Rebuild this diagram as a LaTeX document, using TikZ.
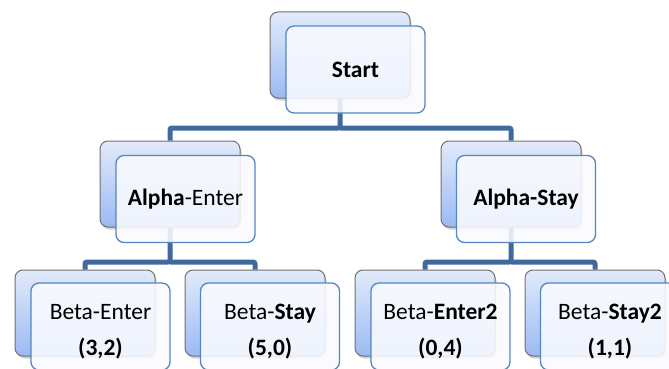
\documentclass[tikz,border=0pt]{standalone}
\usepackage{fontspec}
\setmainfont{Carlito}
\usetikzlibrary{shadows}
\definecolor{connblue}{HTML}{41699C}
\definecolor{backtop}{HTML}{E2EAFB}
\definecolor{backbot}{HTML}{9BBAF2}
\definecolor{backline}{HTML}{707070}
\definecolor{frontline}{HTML}{5686BF}
\definecolor{frontfill}{HTML}{FAFBFF}
\tikzset{
  backbox/.style={rectangle, rounded corners=8pt, minimum width=140pt, minimum height=86pt,
    inner sep=0pt, draw=backline, line width=1pt, top color=backtop, bottom color=backbot,
    drop shadow={shadow xshift=1.5pt, shadow yshift=-2.5pt, opacity=0.35}},
  frontbox/.style={rectangle, rounded corners=8pt, minimum width=139pt, minimum height=87pt,
    inner sep=0pt, draw=frontline, line width=1.3pt, fill=frontfill, fill opacity=0.88,
    text opacity=1, align=center, font=\fontsize{23.5}{36}\selectfont},
  conn/.style={draw=connblue, line width=5pt, rounded corners=2pt}
}
\newcommand{\tl}{\rule{0pt}{26pt}}
\begin{document}
\begin{tikzpicture}[x=1pt, y=-1pt]
\useasboundingbox (0,0) rectangle (669,369);
\clip (0,0) rectangle (669,369);
% back boxes
\node[backbox] (sb) at (340,55) {};
\node[backbox] (aeb) at (170,184) {};
\node[backbox] (asb) at (511,184) {};
\node[backbox] (b1b) at (85,313) {};
\node[backbox] (b2b) at (255,313) {};
\node[backbox] (b3b) at (425,313) {};
\node[backbox] (b4b) at (595,313) {};
% junctions
\coordinate (j1) at (340,128);
\coordinate (j2) at (170,262);
\coordinate (j3) at (511,262);
% connectors
\draw[conn] (sb.south) -- (j1) -| (aeb.north);
\draw[conn] (j1) -| (asb.north);
\draw[conn] (aeb.south) -- (j2) -| (b1b.north);
\draw[conn] (j2) -| (b2b.north);
\draw[conn] (asb.south) -- (j3) -| (b3b.north);
\draw[conn] (j3) -| (b4b.north);
% front boxes
\node[frontbox] (s) at (355.5,69.5) {\textbf{Start}};
\node[frontbox] (ae) at (185.5,199) {\textbf{Alpha}-Enter};
\node[frontbox] (as) at (526,199) {\textbf{Alpha-Stay}};
\node[frontbox] (b1) at (100.5,326.5) {\tl Beta-Enter\\\textbf{(3,2)}};
\node[frontbox] (b2) at (270,326.5) {\tl Beta-\textbf{Stay}\\\textbf{(5,0)}};
\node[frontbox] (b3) at (440.5,326.5) {\tl Beta-\textbf{Enter2}\\\textbf{(0,4)}};
\node[frontbox] (b4) at (610,326.5) {\tl Beta-\textbf{Stay2}\\\textbf{(1,1)}};
\end{tikzpicture}
\end{document}
